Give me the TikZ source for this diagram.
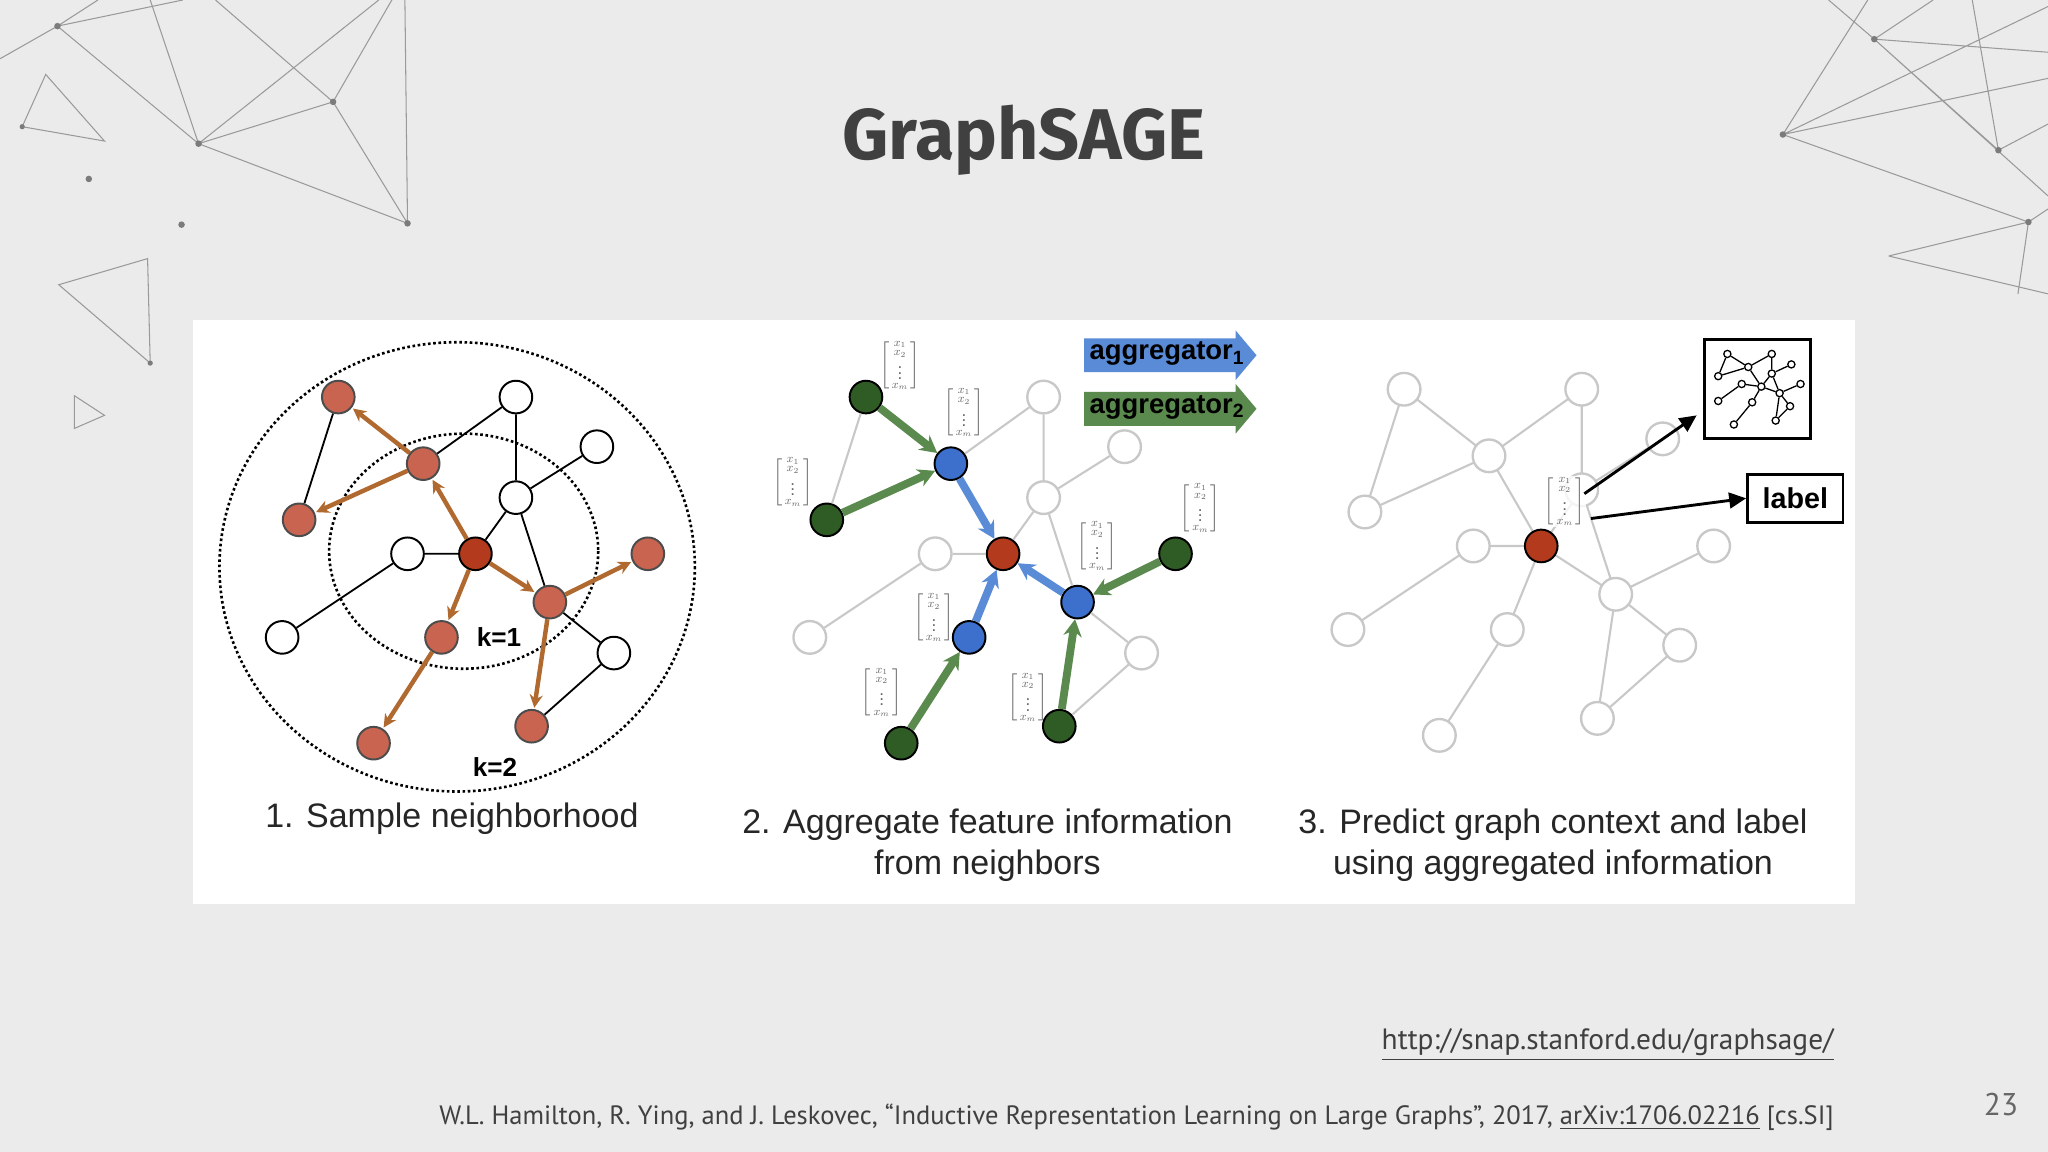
\documentclass[tikz,border=0pt]{standalone}
\usepackage{fontspec}
\usepackage{amsmath}
\setmainfont{Liberation Sans}
\newfontfamily\titlefont{Fira Sans}
\newfontfamily\condfont{PT Sans}
\usetikzlibrary{arrows.meta,shapes.geometric}
\definecolor{bgc}{HTML}{EBEBEB}
\definecolor{nodeor}{HTML}{C8644F}
\definecolor{nodectr}{HTML}{B33A1C}
\definecolor{arror}{HTML}{B06A30}
\definecolor{gnode}{HTML}{2F5B24}
\definecolor{bnode}{HTML}{3D6FCC}
\definecolor{garr}{HTML}{5B8A4E}
\definecolor{barr}{HTML}{5A8BD6}
\definecolor{deco}{HTML}{9A9A9A}
\definecolor{light}{HTML}{C8C8C8}
\newcommand\vecm{$\left[\begin{smallmatrix}x_1\\x_2\\\vdots\\x_m\end{smallmatrix}\right]$}
\tikzset{
  gn/.style={circle,draw=black,line width=1.5pt,minimum size=25pt,inner sep=0pt,fill=white},
  on/.style={gn,fill=nodeor,draw=black!70},
  cn/.style={gn,fill=nodectr},
  grn/.style={gn,fill=gnode},
  bln/.style={gn,fill=bnode},
  ln/.style={gn,draw=light,fill=white,line width=1.8pt},
  bedge/.style={line width=1.4pt,black},
  ledge/.style={line width=1.6pt,light},
  oarr/.style={line width=3.4pt,arror,-{Stealth[length=10pt,width=10pt]},shorten >=1pt},
  garrow/.style={line width=6pt,garr,-{Stealth[length=13pt,width=14pt]}},
  barrow/.style={line width=6pt,barr,-{Stealth[length=13pt,width=14pt]}},
  vec/.style={inner sep=1pt,font=\fontsize{13}{15}\selectfont,text=black!60},
  captxt/.style={font=\fontsize{26}{31}\selectfont,align=center,text=black!85},
  dl/.style={deco,line width=0.8pt},
  dd/.style={fill=deco!80!black,circle,inner sep=0pt,minimum size=5pt},
}
\begin{document}
\begin{tikzpicture}[x=1pt,y=-1pt]
\fill[bgc] (0,0) rectangle (1568,882);
\useasboundingbox (0,0) rectangle (1568,882);
% decorations top-left
\coordinate (p1) at (44,20); \coordinate (p2) at (152,110); \coordinate (p3) at (255,78); \coordinate (p4) at (312,171);
\draw[dl] (p1)--(p2) (p1)--(140,0) (p1)--(0,45) (p1)--(75,0) (p2)--(p3) (p2)--(p4) (p3)--(p4) (p2)--(290,0) (p3)--(165,0) (p4)--(310,0) (p2)--(115,0) (p3)--(300,0);
\draw[dl] (35,57)--(17,97)--(80,108)--cycle;
\draw[dl] (45,218)--(113,198)--(115,278)--cycle;
\draw[dl] (57,303)--(80,318)--(57,328)--cycle;
\foreach \p in {p1,p2,p3,p4} \node[dd] at (\p) {};
\node[dd,minimum size=4pt] at (17,97) {}; \node[dd] at (68,137) {}; \node[dd] at (139,172) {}; \node[dd,minimum size=4pt] at (115,278) {};
% decorations top-right
\coordinate (q1) at (1435,30); \coordinate (q2) at (1365,103); \coordinate (q3) at (1530,115); \coordinate (q4) at (1553,170); \coordinate (q5) at (1446,196);
\draw[dl] (q1)--(1400,0) (q1)--(1568,40) (q1)--(1568,150) (q1)--(1480,0) (q2)--(1568,60) (q2)--(q4) (q2)--(1430,0) (q3)--(1510,0) (q3)--(1568,95) (q4)--(q5) (q5)--(1568,225) (q4)--(1545,225) (q4)--(1568,160) (q1)--(q3) (q2)--(1568,5);
\foreach \p in {q1,q2,q3,q4} \node[dd] at (\p) {};
% title
\node[font=\titlefont\bfseries\fontsize{55}{62}\selectfont,text=black!75] (title) at (784,107) {GraphSAGE};
% white panel
\fill[white] (148,245) rectangle (1420,692);

% ---------------- panel 1 ----------------
\draw[dotted,line width=2pt] (355,422) ellipse [x radius=103,y radius=90];
\draw[dotted,line width=2pt] (350,434) ellipse [x radius=182,y radius=172];
\node[cn] (aC) at (364,424) {};
\node[on] (aA) at (324,355) {};
\node[on] (aTL) at (259,304) {};
\node[on] (aL) at (229,398) {};
\node[gn] (aT) at (395,304) {};
\node[gn] (aTR) at (457,342) {};
\node[gn] (aM) at (395,381) {};
\node[gn] (aW) at (312,424) {};
\node[gn] (aLL) at (216,488) {};
\node[on] (aB) at (338,488) {};
\node[on] (aBL) at (286,569) {};
\node[on] (aR) at (421,461) {};
\node[on] (aRR) at (496,424) {};
\node[gn] (aRB) at (470,500) {};
\node[on] (aBR) at (407,556) {};
\draw[bedge] (aTL)--(aL) (aA)--(aT) (aT)--(aM) (aM)--(aTR) (aM)--(aC) (aM)--(aR) (aC)--(aW) (aW)--(aLL) (aR)--(aRB) (aRB)--(aBR);
\draw[oarr] (aA)--(aTL); \draw[oarr] (aA)--(aL); \draw[oarr] (aC)--(aA); \draw[oarr] (aC)--(aB);
\draw[oarr] (aB)--(aBL); \draw[oarr] (aC)--(aR); \draw[oarr] (aR)--(aRR); \draw[oarr] (aR)--(aBR);
\node[font=\bfseries\fontsize{20}{22}\selectfont] (k1) at (382,488) {k=1};
\node[font=\bfseries\fontsize{20}{22}\selectfont] (k2) at (379,587) {k=2};
\node[captxt] (cap1) at (346,627) {1. Sample neighborhood};

% ---------------- panel 2 ----------------
\begin{scope}[shift={(404,0)}]
\node[cn] (bC) at (364,424) {};
\node[bln] (bA) at (324,355) {};
\node[grn] (bTL) at (259,304) {};
\node[grn] (bL) at (229,398) {};
\node[ln] (bT) at (395,304) {};
\node[ln] (bTR) at (457,342) {};
\node[ln] (bM) at (395,381) {};
\node[ln] (bW) at (312,424) {};
\node[ln] (bLL) at (216,488) {};
\node[bln] (bB) at (338,488) {};
\node[grn] (bBL) at (286,569) {};
\node[bln] (bR) at (421,461) {};
\node[grn] (bRR) at (496,424) {};
\node[ln] (bRB) at (470,500) {};
\node[grn] (bBR) at (407,556) {};
\end{scope}
\draw[ledge] (bTL)--(bL) (bA)--(bT) (bT)--(bM) (bM)--(bTR) (bM)--(bC) (bM)--(bR) (bC)--(bW) (bW)--(bLL) (bR)--(bRB) (bRB)--(bBR);
\draw[garrow] (bTL)--(bA); \draw[garrow] (bL)--(bA); \draw[garrow] (bBL)--(bB);
\draw[garrow] (bRR)--(bR); \draw[garrow] (bBR)--(bR);
\draw[barrow] (bA)--(bC); \draw[barrow] (bB)--(bC); \draw[barrow] (bR)--(bC);
\node[vec] (v1) at (689,280) {\vecm};
\node[vec] (v2) at (738,316) {\vecm};
\node[vec] (v3) at (607,369) {\vecm};
\node[vec] (v4) at (840,418) {\vecm};
\node[vec] (v5) at (919,389) {\vecm};
\node[vec] (v6) at (715,473) {\vecm};
\node[vec] (v7) at (675,530) {\vecm};
\node[vec] (v8) at (787,534) {\vecm};
\fill[barr] (830,259) -- (946,259) -- (946,253) -- (962,272) -- (946,291) -- (946,285) -- (830,285) -- cycle;
\fill[garr] (830,300) -- (946,300) -- (946,294) -- (962,313) -- (946,332) -- (946,326) -- (830,326) -- cycle;
\node[font=\bfseries\fontsize{21}{22}\selectfont,anchor=west,inner sep=0pt] (ag1) at (834,271) {aggregator\textsubscript{1}};
\node[font=\bfseries\fontsize{21}{22}\selectfont,anchor=west,inner sep=0pt] (ag2) at (834,312) {aggregator\textsubscript{2}};
\node[captxt] (cap2) at (756,647) {2. Aggregate feature information\\from neighbors};

% ---------------- panel 3 ----------------
\draw[ledge] (1075,298)--(1045,392) (1075,298)--(1140,349) (1140,349)--(1045,392) (1180,418)--(1140,349) (1140,349)--(1211,298) (1211,298)--(1211,375) (1211,375)--(1273,336) (1211,375)--(1180,418) (1211,375)--(1237,455) (1180,418)--(1128,418) (1128,418)--(1032,482) (1180,418)--(1154,482) (1154,482)--(1102,563) (1180,418)--(1237,455) (1237,455)--(1312,418) (1237,455)--(1223,550) (1237,455)--(1286,494) (1286,494)--(1223,550);
\begin{scope}[shift={(816,-6)}]
\node[cn] (cC) at (364,424) {};
\node[ln] (cA) at (324,355) {};
\node[ln] (cTL) at (259,304) {};
\node[ln] (cL) at (229,398) {};
\node[ln] (cT) at (395,304) {};
\node[ln] (cTR) at (457,342) {};
\node[ln] (cM) at (395,381) {};
\node[ln] (cW) at (312,424) {};
\node[ln] (cLL) at (216,488) {};
\node[ln] (cB) at (338,488) {};
\node[ln] (cBL) at (286,569) {};
\node[ln] (cR) at (421,461) {};
\node[ln] (cRR) at (496,424) {};
\node[ln] (cRB) at (470,500) {};
\node[ln] (cBR) at (407,556) {};
\end{scope}
\node[vec,fill=white,fill opacity=0.8,text opacity=1] (v9) at (1198,384) {\vecm};
\node[draw,line width=2.2pt,minimum width=81pt,minimum height=76pt] (ctx) at (1345.5,298) {};
\node[draw,line width=2.2pt,minimum width=73pt,minimum height=37pt,font=\bfseries\fontsize{22}{24}\selectfont] (lab) at (1374.5,381.5) {label};
\coordinate (s1) at (1213,378); \coordinate (s2) at (1218,397); \coordinate (e1) at (1299,318);
\draw[line width=2.2pt,-{Triangle[length=13pt,width=12pt]}] (s1)--(e1);
\draw[line width=2.2pt,-{Triangle[length=13pt,width=12pt]}] (s2)--(lab.west);
% mini graph
\begin{scope}[shift={(1345.5,298)},mini/.style={circle,draw,line width=1pt,fill=white,inner sep=0pt,minimum size=5.5pt}]
\node[mini] (m1) at (-23,-27) {}; \node[mini] (m2) at (-30,-10) {}; \node[mini] (m3) at (-7,-17) {};
\node[mini] (m4) at (11,-27) {}; \node[mini] (m5) at (26,-19) {}; \node[mini] (m6) at (11,-12) {};
\node[mini] (m7) at (3,-2) {}; \node[mini] (m8) at (-12,-4) {}; \node[mini] (m9) at (-30,9) {};
\node[mini] (m10) at (17,3) {}; \node[mini] (m11) at (33,-4) {}; \node[mini] (m12) at (-4,10) {};
\node[mini] (m13) at (25,13) {}; \node[mini] (m14) at (-18,27) {}; \node[mini] (m15) at (14,24) {};
\end{scope}
\draw[line width=1pt] (m1)--(m2) (m1)--(m3) (m2)--(m3) (m3)--(m4) (m4)--(m6) (m3)--(m7) (m6)--(m5) (m6)--(m7) (m6)--(m10) (m7)--(m8) (m8)--(m9) (m7)--(m12) (m12)--(m14) (m7)--(m10) (m10)--(m11) (m10)--(m13) (m10)--(m15) (m13)--(m15);
\node[captxt] (cap3) at (1189,647) {3. Predict graph context and label\\using aggregated information};

% footer
\node[anchor=east,font=\condfont\fontsize{22.5}{24}\selectfont,text=black!75,inner sep=0pt] (url) at (1404,800) {\underline{http://snap.stanford.edu/graphsage/}};
\node[anchor=east,font=\condfont\fontsize{20.3}{24}\selectfont,text=black!75,inner sep=0pt] (cite) at (1404,855) {W.L. Hamilton, R. Ying, and J. Leskovec, “Inductive Representation Learning on Large Graphs”, 2017, \underline{arXiv:1706.02216} [cs.SI]};
\node[font=\condfont\fontsize{24}{26}\selectfont,text=black!60] (pg) at (1532,846) {23};
\end{tikzpicture}
\end{document}
